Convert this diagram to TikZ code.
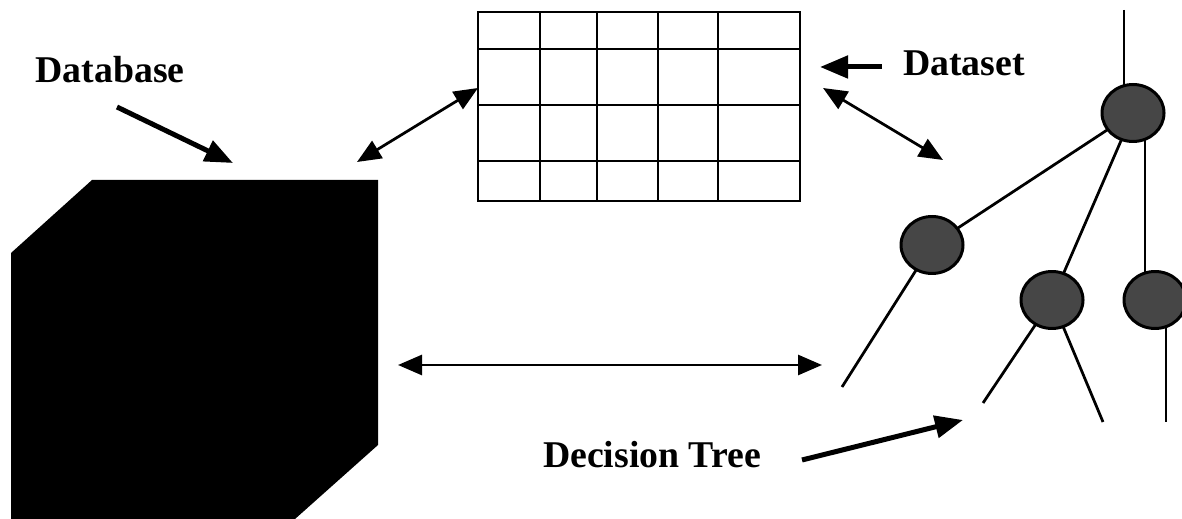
\documentclass[tikz,border=0pt]{standalone}
\usepackage{fontspec}
\setmainfont{Liberation Serif}
\usepackage{tikz}
\usetikzlibrary{shapes.geometric, arrows.meta, positioning, calc, backgrounds}
\definecolor{inkblack}{RGB}{0,0,0}
\definecolor{nodegray}{RGB}{70,70,70}
\tikzset{
  tag/.style={font=\bfseries\fontsize{21.5}{24}\selectfont, inner sep=0pt},
  treenode/.style={ellipse, draw=inkblack, fill=nodegray,
    minimum width=1.24cm, minimum height=1.14cm, inner sep=0pt, line width=0.06cm},
  table/.style={rectangle, draw=inkblack, minimum width=6.44cm,
    minimum height=3.78cm, inner sep=0pt, line width=0.05cm},
  arrow/.style={-{Triangle[length=0.56cm, width=0.44cm]}, line width=0.1cm, color=inkblack},
  duoarrow/.style={{Triangle[length=0.48cm, width=0.4cm]}-{Triangle[length=0.48cm, width=0.4cm]},
    line width=0.055cm, color=inkblack},
  branch/.style={line width=0.055cm, color=inkblack},
  cell/.style={line width=0.05cm, color=inkblack}
}

\begin{document}
\begin{tikzpicture}[x=0.02cm, y=-0.02cm]
  \useasboundingbox (0,0) rectangle (1182,519);

  % database block
  \fill[inkblack] (11,519) -- (11,253) -- (92,180) -- (378,180) -- (378,445) -- (295,519) -- cycle;

  % dataset table
  \node[table] (table) at (639,106.5) {};
  \foreach \cx in {540,597,658,718}
    \draw[cell] (\cx,12) -- (\cx,201);
  \foreach \cy in {49,105,161}
    \draw[cell] (478,\cy) -- (800,\cy);

  % decision tree
  \node[treenode] (root) at (1133,113) {};
  \node[treenode] (left) at (932,245) {};
  \node[treenode] (mid) at (1052,300) {};
  \node[treenode] (right) at (1155,300) {};
  \coordinate (rootup) at (1124,10);
  \coordinate (leafa) at (842,387);
  \coordinate (leafb) at (983,403);
  \coordinate (leafc) at (1103,422);
  \coordinate (leafd) at (1166,422);
  \begin{scope}[on background layer]
    \draw[branch] (rootup) -- (rootup |- root.center);
    \draw[branch] (root.center) -- (left.center);
    \draw[branch] (root.center) -- (mid.center);
    \draw[branch] (1145,113) -- (1145,300);
    \draw[branch] (left.center) -- (leafa);
    \draw[branch] (mid.center) -- (leafb);
    \draw[branch] (mid.center) -- (leafc);
    \draw[branch] (leafd |- right.center) -- (leafd);
  \end{scope}

  % labels
  \node[tag] (dbtext) at (110,70) {Database};
  \node[tag] (dstext) at (964,63) {Dataset};
  \node[tag, anchor=base] (dttext) at (652,468) {Decision Tree};

  \coordinate (dbfrom) at (117,107);
  \coordinate (dbto) at (233,163);
  \coordinate (dsfrom) at (882,67);
  \coordinate (dsto) at (820,67);
  \coordinate (dtfrom) at (802,460);
  \coordinate (dtto) at (963,420);
  \draw[arrow] (dbfrom) -- (dbto);
  \draw[arrow] (dsfrom) -- (dsto);
  \draw[arrow] (dtfrom) -- (dtto);

  % links between the three parts
  \coordinate (cubecorner) at (357,162);
  \coordinate (tableleft) at (478,88);
  \coordinate (tableright) at (823,88);
  \coordinate (treeleft) at (943,160);
  \coordinate (cubeside) at (398,365);
  \coordinate (treefoot) at (822,365);
  \draw[duoarrow] (cubecorner) -- (tableleft);
  \draw[duoarrow] (tableright) -- (treeleft);
  \draw[duoarrow] (cubeside) -- (treefoot);
\end{tikzpicture}
\end{document}
